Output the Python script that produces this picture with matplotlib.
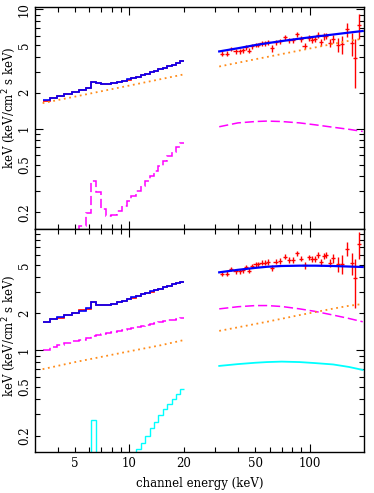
import matplotlib
matplotlib.use("Agg")
import numpy as np
from matplotlib import pyplot as plt
from matplotlib.ticker import FixedLocator, FuncFormatter, NullFormatter

plt.rcParams['font.family'] = ['DejaVu Serif']
plt.rcParams['font.size'] = 8.5

# PCA channel edges (keV)
pca_edges = [3.3, 3.64, 3.99, 4.36, 4.79, 5.22, 5.75, 6.14, 6.55, 7.0, 7.45, 7.95,
             8.5, 9.05, 9.65, 10.25, 10.9, 11.55, 12.25, 12.95, 13.7, 14.5, 15.35,
             16.25, 17.15, 18.05, 19.0, 20.0]

# top panel, PCA
top_pca_model = [1.73, 1.81, 1.88, 1.97, 2.03, 2.10, 2.21, 2.46, 2.40, 2.36, 2.36, 2.40,
                 2.46, 2.52, 2.59, 2.66, 2.73, 2.81, 2.89, 2.98, 3.06, 3.15, 3.24,
                 3.33, 3.43, 3.54, 3.66]
top_pca_data = [1.71, 1.80, 1.89, 1.96, 2.04, 2.10, 2.20, 2.45, 2.41, 2.36, 2.35, 2.41,
                2.45, 2.53, 2.58, 2.67, 2.72, 2.82, 2.88, 2.99, 3.05, 3.16, 3.23,
                3.34, 3.42, 3.55, 3.68]
top_pca_refl = [0.10, 0.10, 0.10, 0.10, 0.10, 0.154, 0.197, 0.368, 0.293, 0.213, 0.185,
                0.19, 0.205, 0.225, 0.25, 0.275, 0.30, 0.33, 0.365, 0.40, 0.44, 0.49,
                0.54, 0.59, 0.64, 0.70, 0.76]
top_pl_e = [3.3, 5.0, 10.0, 20.0]
top_pl_pca = [1.64, 1.86, 2.30, 2.85]

# bottom panel, PCA
bot_pca_model = [1.71, 1.79, 1.86, 1.94, 2.03, 2.11, 2.20, 2.47, 2.35, 2.33, 2.34, 2.40,
                 2.47, 2.55, 2.63, 2.71, 2.79, 2.87, 2.95, 3.03, 3.11, 3.20, 3.29,
                 3.38, 3.47, 3.56, 3.62]
bot_pca_data = [1.70, 1.80, 1.85, 1.95, 2.02, 2.12, 2.19, 2.46, 2.36, 2.33, 2.35, 2.39,
                2.48, 2.54, 2.64, 2.70, 2.80, 2.86, 2.96, 3.02, 3.12, 3.19, 3.30,
                3.37, 3.48, 3.55, 3.64]
bot_pca_comp = [1.01, 1.06, 1.10, 1.14, 1.18, 1.22, 1.26, 1.30, 1.33, 1.36, 1.39, 1.41,
                1.44, 1.47, 1.50, 1.53, 1.56, 1.59, 1.62, 1.65, 1.68, 1.71, 1.74,
                1.76, 1.78, 1.80, 1.82]
bot_pca_refl = [0.10, 0.10, 0.10, 0.10, 0.10, 0.10, 0.10, 0.27, 0.10, 0.10, 0.10, 0.10,
                0.10, 0.10, 0.10, 0.10, 0.155, 0.175, 0.20, 0.23, 0.26, 0.295, 0.33,
                0.365, 0.40, 0.44, 0.48]
bot_pl_e = [3.3, 5.0, 6.4, 10.0, 15.0, 20.0]
bot_pl_pca = [0.70, 0.80, 0.86, 0.98, 1.10, 1.21]

# HEXTE models
hx_e = [31.5, 40.0, 50.0, 58.0, 70.0, 88.0, 107.0, 135.0, 165.0, 197.0]
top_hx_model = [4.44, 4.72, 5.02, 5.20, 5.42, 5.68, 5.90, 6.15, 6.38, 6.58]
top_hx_pl = [3.32, 3.57, 3.82, 3.99, 4.22, 4.52, 4.79, 5.13, 5.45, 5.66]
top_hx_refl = [1.04, 1.12, 1.15, 1.16, 1.15, 1.12, 1.08, 1.03, 0.99, 0.95]
bot_hx_model = [4.34, 4.55, 4.72, 4.82, 4.89, 4.92, 4.92, 4.89, 4.84, 4.80]
bot_hx_comp = [2.18, 2.27, 2.32, 2.32, 2.28, 2.18, 2.08, 1.94, 1.82, 1.71]
bot_hx_pl = [1.44, 1.54, 1.64, 1.71, 1.81, 1.94, 2.05, 2.19, 2.31, 2.39]
bot_hx_refl = [0.744, 0.77, 0.79, 0.80, 0.807, 0.80, 0.785, 0.765, 0.73, 0.69]

# HEXTE data
hx_data_e = [32.7, 34.9, 36.8, 38.8, 40.9, 42.7, 44.5, 46.0, 48.0, 50.1, 51.8, 54.1,
             56.3, 58.7, 62.0, 64.7, 68.3, 72.9, 76.7, 80.7, 85.3, 89.8, 93.7, 99.0,
             103, 107, 111, 115, 120, 124, 129, 135, 144, 151, 161, 171, 178, 187]
hx_data = [4.24, 4.24, 4.64, 4.44, 4.44, 4.52, 4.80, 4.49, 4.89, 5.04, 5.04, 5.21,
           5.21, 5.28, 4.73, 5.31, 5.38, 5.82, 5.49, 5.49, 6.20, 5.63, 4.94, 5.74,
           5.55, 5.63, 6.05, 5.28, 5.93, 6.00, 5.21, 5.66, 5.05, 5.10, 6.80, 5.20,
           3.90, 7.40]
hx_err = [0.20, 0.20, 0.20, 0.20, 0.20, 0.20, 0.22, 0.22, 0.22, 0.22, 0.22, 0.24,
          0.24, 0.25, 0.30, 0.25, 0.26, 0.28, 0.28, 0.28, 0.30, 0.30, 0.30, 0.30,
          0.32, 0.32, 0.35, 0.35, 0.35, 0.35, 0.40, 0.45, 0.70, 0.90, 0.90, 1.10,
          1.70, 1.80]

BLUE = '#0000ff'
RED = '#ff0000'
MAG = '#ff00ff'
ORA = '#ff8c1a'
CYAN = '#00ffff'
DASH = (0, (6, 2.5))
DOT = (0, (1, 2))


def style_axis(ax, ylim, show_x):
    ax.set_xscale('log')
    ax.set_yscale('log')
    ax.set_xlim(3, 200)
    ax.set_ylim(*ylim)
    ax.xaxis.set_major_locator(FixedLocator([10, 100]))
    ax.xaxis.set_minor_locator(FixedLocator([4, 5, 6, 7, 8, 9, 20, 30, 40, 50, 60, 70, 80, 90]))
    ax.yaxis.set_major_locator(FixedLocator([1, 10]))
    ax.yaxis.set_minor_locator(FixedLocator([0.2, 0.3, 0.4, 0.5, 0.6, 0.7, 0.8, 0.9,
                                             2, 3, 4, 5, 6, 7, 8, 9]))
    def xfmt(v, pos):
        if round(v) in (5, 10, 20, 50, 100, 200):
            return '%g' % v
        return ''

    def yfmt(v, pos):
        if v in (0.2, 0.5, 1, 2, 5, 10):
            return '%g' % v
        return ''
    if show_x:
        ax.xaxis.set_major_formatter(FuncFormatter(xfmt))
        ax.xaxis.set_minor_formatter(FuncFormatter(xfmt))
    else:
        ax.xaxis.set_major_formatter(NullFormatter())
        ax.xaxis.set_minor_formatter(NullFormatter())
    ax.yaxis.set_major_formatter(FuncFormatter(yfmt))
    ax.yaxis.set_minor_formatter(FuncFormatter(yfmt))
    ax.tick_params(which='both', direction='in', top=True, right=True, width=0.8)
    ax.tick_params(which='major', length=6)
    ax.tick_params(which='minor', length=3.5)
    ax.tick_params(axis='y', which='both', pad=3)
    for lab in ax.get_yticklabels(which='both'):
        lab.set_rotation(90)
        lab.set_va('center')
    for sp in ax.spines.values():
        sp.set_linewidth(1.0)


fig = plt.figure(figsize=(3.74, 4.93), dpi=100)
ax1 = fig.add_axes([0.094, 0.5355, 0.879, 0.4503])
ax2 = fig.add_axes([0.094, 0.0832, 0.879, 0.4523])

xerr = np.array(hx_data_e) * 0.026

# top panel
ax1.stairs(top_pca_data, pca_edges, baseline=None, color=RED, lw=1.2)
ax1.stairs(top_pca_model, pca_edges, baseline=None, color=BLUE, lw=1.2)
ax1.plot(top_pl_e, top_pl_pca, color=ORA, lw=1.3, ls=DOT)
ax1.stairs(top_pca_refl, pca_edges, baseline=None, color=MAG, lw=1.1, ls=DASH)
ax1.errorbar(hx_data_e, hx_data, xerr=xerr, yerr=hx_err, fmt='none', ecolor=RED, elinewidth=1.0)
ax1.plot(hx_e, top_hx_model, color=BLUE, lw=1.6)
ax1.plot(hx_e, top_hx_pl, color=ORA, lw=1.3, ls=DOT)
ax1.plot(hx_e, top_hx_refl, color=MAG, lw=1.1, ls=DASH)
style_axis(ax1, (0.145, 10.45), False)
ax1.set_ylabel('keV (keV/cm$^2$ s keV)')
ax1.yaxis.set_label_coords(-0.052, 0.545)

# bottom panel
ax2.stairs(bot_pca_data, pca_edges, baseline=None, color=RED, lw=1.2)
ax2.stairs(bot_pca_model, pca_edges, baseline=None, color=BLUE, lw=1.2)
ax2.stairs(bot_pca_comp, pca_edges, baseline=None, color=MAG, lw=1.1, ls=DASH)
ax2.plot(bot_pl_e, bot_pl_pca, color=ORA, lw=1.3, ls=DOT)
ax2.stairs(bot_pca_refl, pca_edges, baseline=None, color=CYAN, lw=1.0)
ax2.errorbar(hx_data_e, hx_data, xerr=xerr, yerr=hx_err, fmt='none', ecolor=RED, elinewidth=1.0)
ax2.plot(hx_e, bot_hx_model, color=BLUE, lw=1.6)
ax2.plot(hx_e, bot_hx_comp, color=MAG, lw=1.1, ls=DASH)
ax2.plot(hx_e, bot_hx_pl, color=ORA, lw=1.3, ls=DOT)
ax2.plot(hx_e, bot_hx_refl, color=CYAN, lw=1.3)
style_axis(ax2, (0.147, 9.82), True)
ax2.set_ylabel('keV (keV/cm$^2$ s keV)')
ax2.yaxis.set_label_coords(-0.052, 0.52)
ax2.set_xlabel('channel energy (keV)', labelpad=5)

fig.savefig('out.png', dpi=100)
